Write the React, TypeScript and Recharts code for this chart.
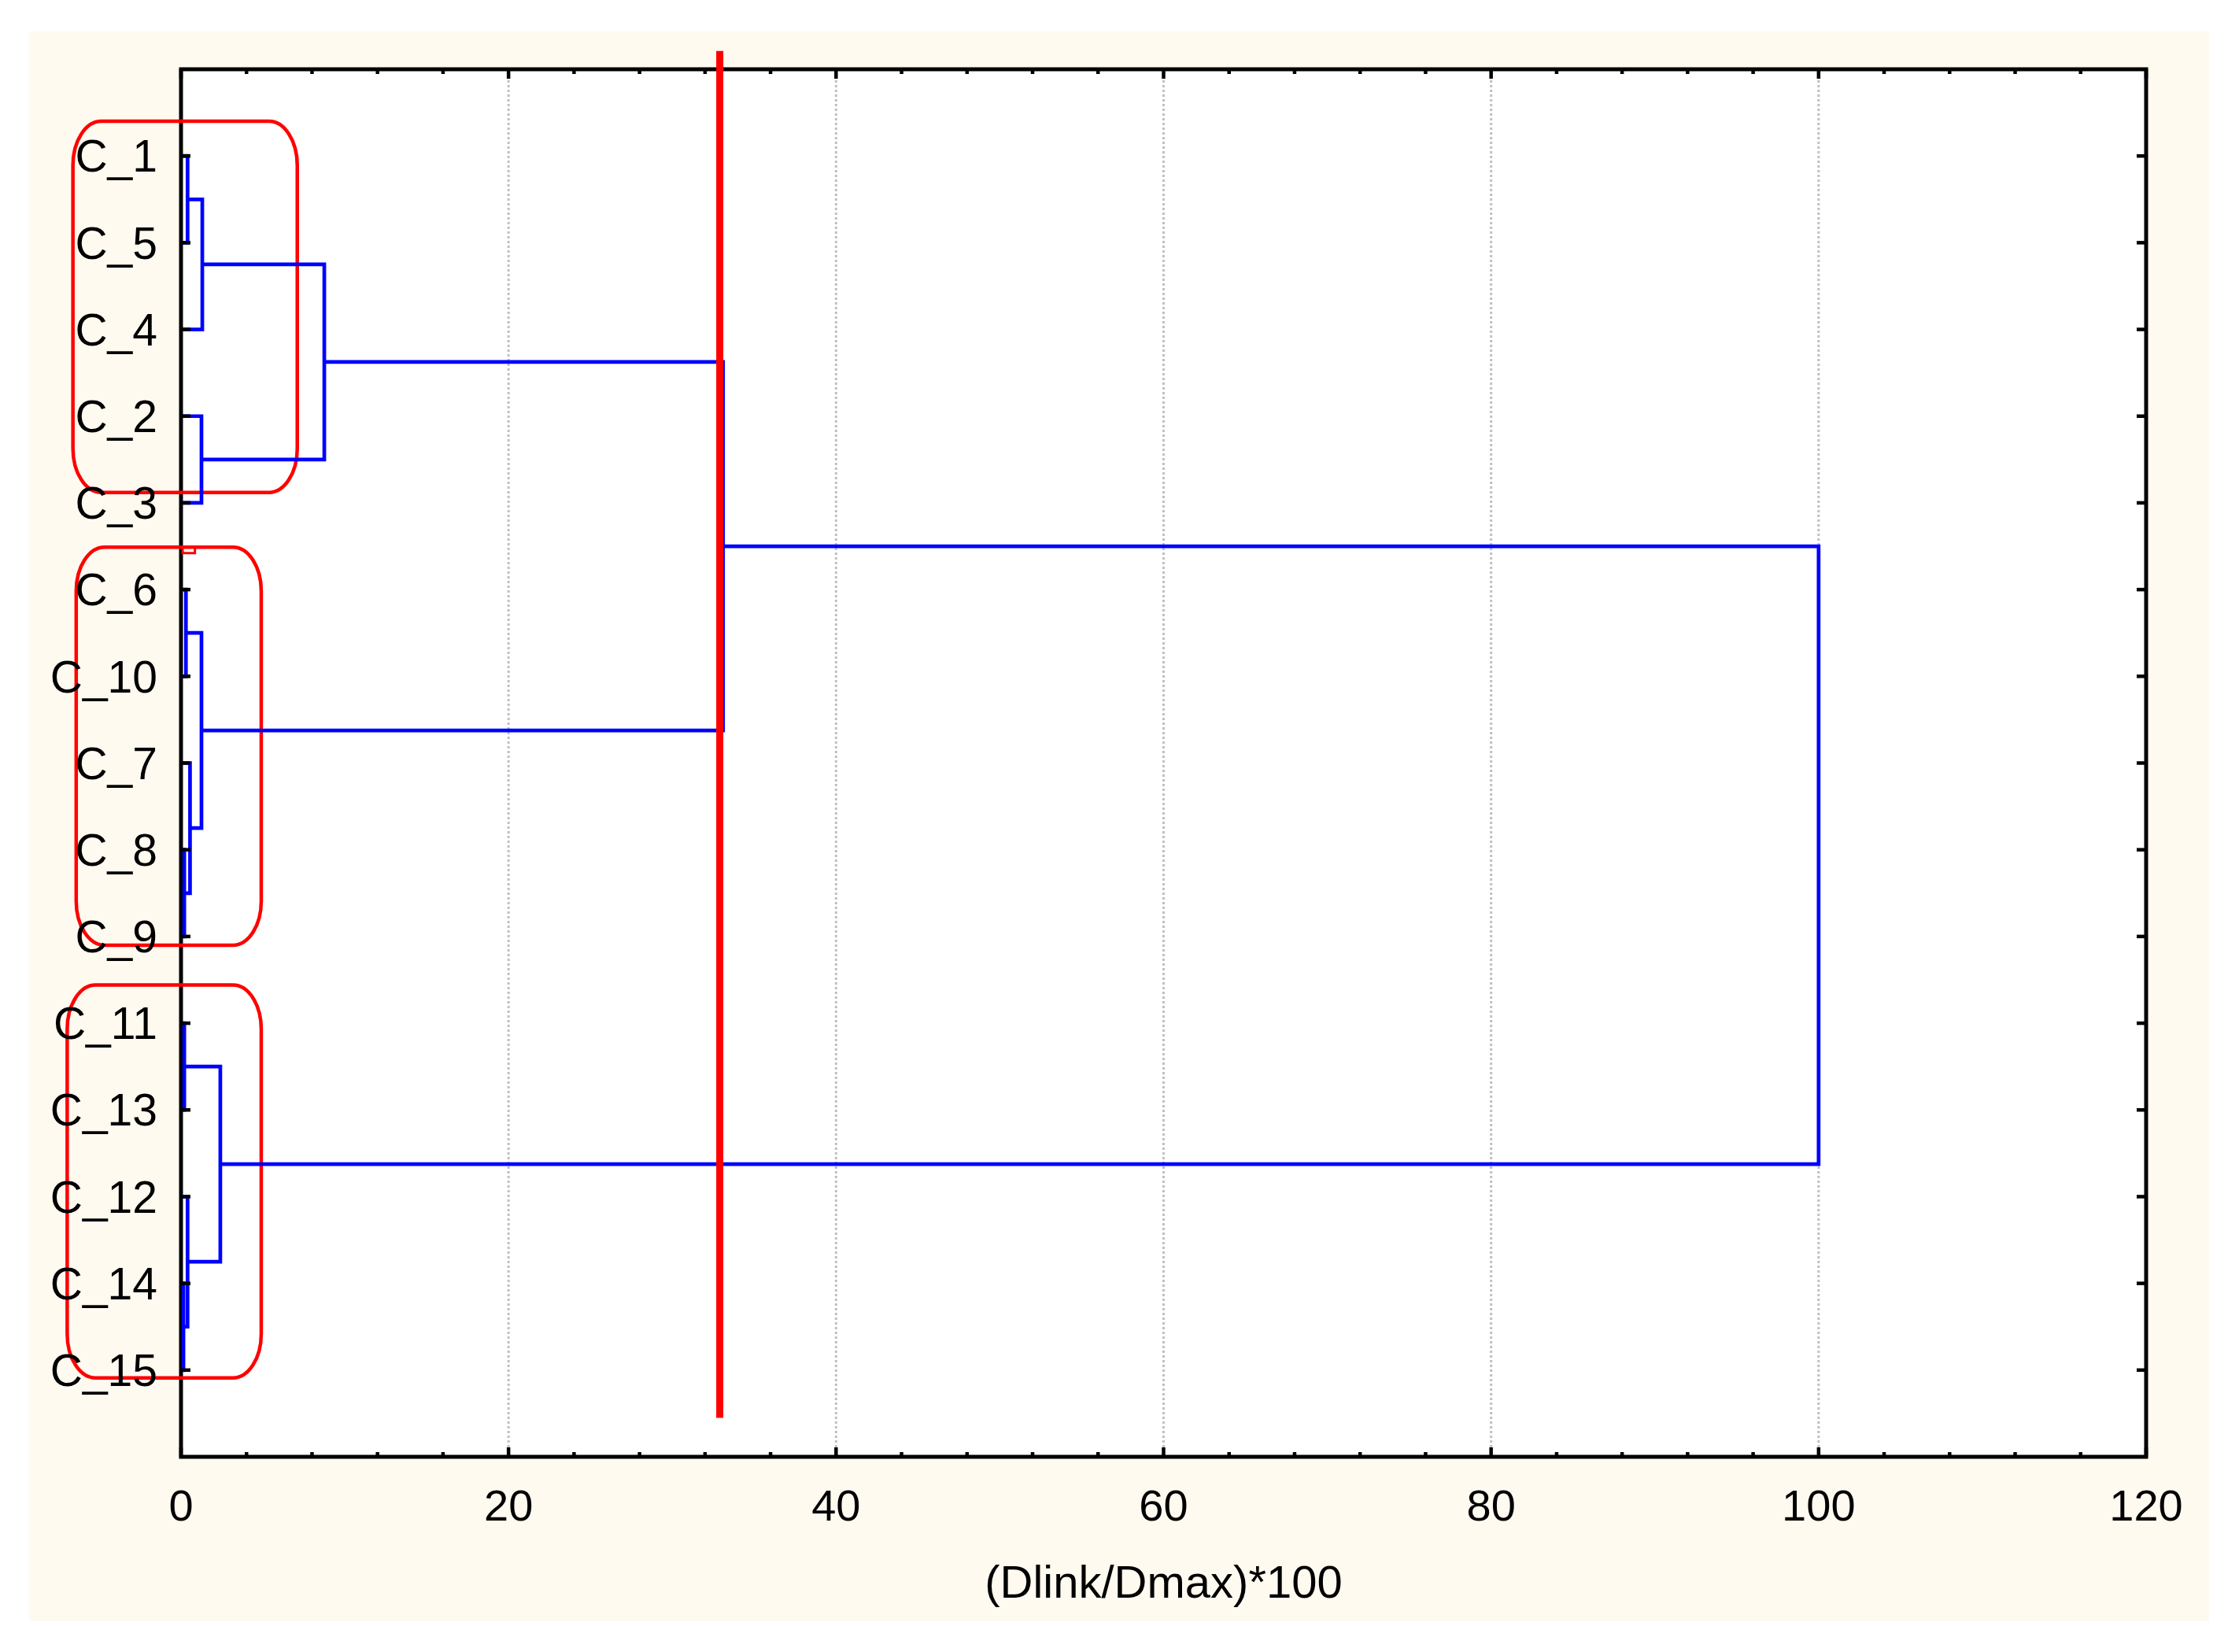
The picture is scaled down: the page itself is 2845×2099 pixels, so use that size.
import React from 'react';
import { LineChart, Line, XAxis, YAxis, ReferenceArea, ReferenceLine } from 'recharts';

// leaves in dendrogram order (top to bottom)
const leafLabels = ['C_1', 'C_5', 'C_4', 'C_2', 'C_3', 'C_6', 'C_10', 'C_7', 'C_8', 'C_9', 'C_11', 'C_13', 'C_12', 'C_14', 'C_15'];

// linkage: ids 0-14 are the leaves above, each merge k creates node 15 + k
const mergeLeft = [0, 15, 3, 16, 5, 8, 7, 19, 18, 10, 13, 12, 24, 23];
const mergeRight = [1, 2, 4, 17, 6, 9, 20, 21, 22, 11, 14, 25, 26, 27];
const mergeHeight = [0.4, 1.3, 1.25, 8.75, 0.3, 0.2, 0.55, 1.25, 33.1, 0.2, 0.15, 0.4, 2.4, 100];

const majorTicks = [0, 20, 40, 60, 80, 100, 120];
const gridLines = [20, 40, 60, 80, 100];
const allTicks = [0, 4, 8, 12, 16, 20, 24, 28, 32, 36, 40, 44, 48, 52, 56, 60, 64, 68, 72, 76, 80, 84, 88, 92, 96, 100, 104, 108, 112, 116, 120];

const cutLevel = 32.9;

// red hand-drawn cluster marks
const clusterBoxes = [
  { x1: -6.6, x2: 7.1, y1: 0.6, y2: 4.88 },
  { x1: -6.4, x2: 4.9, y1: 5.51, y2: 10.1 },
  { x1: -6.95, x2: 4.9, y1: 10.56, y2: 15.09 },
];

const W = 2770;
const H = 2020;
const margin = { top: 48, right: 80, bottom: 0, left: 0 };
const yAxisW = 193;
const xAxisH = 209;
const plotLeft = margin.left + yAxisW;
const plotRight = W - margin.right;
const plotTop = margin.top;
const plotBottom = H - margin.bottom - xAxisH;

const font = '"Liberation Sans", Arial, sans-serif';

const leafPos = leafLabels.map((_, i) => i + 1);

const buildLinks = () => {
  const pos: number[] = [...leafPos];
  const hgt: number[] = leafLabels.map(() => 0);
  return mergeHeight.map((h, k) => {
    const a = mergeLeft[k];
    const b = mergeRight[k];
    pos.push((pos[a] + pos[b]) / 2);
    hgt.push(h);
    return [
      { x: hgt[a], y: pos[a] },
      { x: h, y: pos[a] },
      { x: h, y: pos[b] },
      { x: hgt[b], y: pos[b] },
    ];
  });
};

const links = buildLinks();

// x ticks: inward marks on bottom and top edge, labels on majors only
const XTick = (p: any) => {
  const v = p.payload.value;
  const cx = p.x;
  const major = majorTicks.includes(v);
  const len = major ? 12 : 6;
  return (
    <g>
      <line x1={cx} x2={cx} y1={plotBottom} y2={plotBottom - len} stroke="#000" strokeWidth={4.5} />
      <line x1={cx} x2={cx} y1={plotTop} y2={plotTop + len} stroke="#000" strokeWidth={4.5} />
      {major && (
        <text x={cx} y={p.y} dy="0.71em" textAnchor="middle" fontSize={56} fontFamily={font} fill="#000">
          {v}
        </text>
      )}
    </g>
  );
};

// y ticks: inward marks on left and right edge, leaf name on the left
const YTick = (p: any) => {
  const cy = p.y;
  return (
    <g>
      <line x1={plotLeft} x2={plotLeft + 12} y1={cy} y2={cy} stroke="#000" strokeWidth={4.5} />
      <line x1={plotRight} x2={plotRight - 12} y1={cy} y2={cy} stroke="#000" strokeWidth={4.5} />
      <text x={p.x} y={cy} dy="0.355em" textAnchor="end" fontSize={57} fontFamily={font} fill="#000">
        {leafLabels[p.payload.value - 1]}
      </text>
    </g>
  );
};

const roundBox = (p: any) => (
  <rect x={p.x} y={p.y} width={p.width} height={p.height} rx={36} ry={56} fill="none" stroke="#FF0000" strokeWidth={4.5} />
);

const App = () => {
  return (
    <div style={{ position: 'absolute', left: 37, top: 40, width: W, height: H, background: '#FFFAF0' }}>
      <div style={{ position: 'absolute', left: plotLeft, top: plotTop, width: plotRight - plotLeft, height: plotBottom - plotTop, background: '#fff' }} />
      <div style={{ position: 'absolute', left: 0, top: 0 }}>
        <LineChart width={W} height={H} margin={margin}>
          <XAxis
            xAxisId="x"
            dataKey="x"
            type="number"
            domain={[0, 120]}
            allowDataOverflow
            ticks={allTicks}
            interval={0}
            height={xAxisH}
            tickLine={false}
            tickSize={0}
            tickMargin={41}
            axisLine={false}
            tick={<XTick />}
            label={{ value: '(Dlink/Dmax)*100', position: 'insideBottom', offset: 30, fontSize: 58, fill: '#000', fontFamily: font }}
          />
          <YAxis
            yAxisId="y"
            dataKey="y"
            type="number"
            domain={[0, 16]}
            reversed
            allowDataOverflow
            ticks={leafPos}
            interval={0}
            width={yAxisW}
            tickLine={false}
            tickSize={0}
            tickMargin={30}
            axisLine={false}
            tick={<YTick />}
          />
          {gridLines.map((v) => (
            <ReferenceLine key={v} xAxisId="x" yAxisId="y" x={v} stroke="#c0c0c0" strokeWidth={3} strokeDasharray="3 3" />
          ))}
          {links.map((pts, i) => (
            <Line
              key={i}
              data={pts}
              dataKey="y"
              xAxisId="x"
              yAxisId="y"
              type="linear"
              stroke="#0000FF"
              strokeWidth={4.7}
              dot={false}
              activeDot={false}
              isAnimationActive={false}
            />
          ))}
          {/* plot frame */}
          <ReferenceArea xAxisId="x" yAxisId="y" x1={0} x2={120} y1={0} y2={16} ifOverflow="visible" fill="none" fillOpacity={0} stroke="#000" strokeWidth={5} />
          {clusterBoxes.map((b, i) => (
            <ReferenceArea key={i} xAxisId="x" yAxisId="y" x1={b.x1} x2={b.x2} y1={b.y1} y2={b.y2} ifOverflow="visible" shape={roundBox} />
          ))}
          <ReferenceArea xAxisId="x" yAxisId="y" x1={0.1} x2={0.85} y1={5.51} y2={5.58} ifOverflow="visible" fill="none" fillOpacity={0} stroke="#FF0000" strokeWidth={3} />
          <ReferenceLine
            xAxisId="x"
            yAxisId="y"
            segment={[{ x: cutLevel, y: -0.21 }, { x: cutLevel, y: 15.55 }]}
            ifOverflow="visible"
            stroke="#FF0000"
            strokeWidth={9}
          />
        </LineChart>
      </div>
    </div>
  );
};

export default App;
